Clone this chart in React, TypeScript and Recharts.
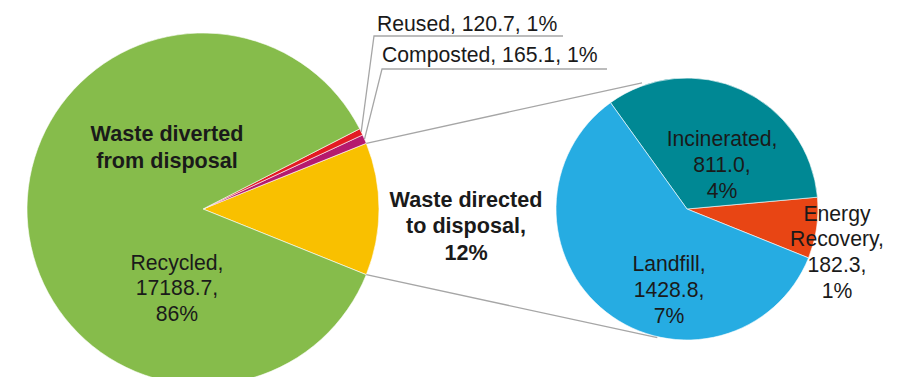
import React from 'react';
import { PieChart, Pie, Cell } from 'recharts';

// ---------- data ----------
const divertedNames = ['Recycled', 'Reused', 'Composted'];
const divertedValues = [17188.7, 120.7, 165.1];
const divertedPercents = ['86%', '1%', '1%'];
const disposalNames = ['Incinerated', 'Energy Recovery', 'Landfill'];
const disposalValues = [811.0, 182.3, 1428.8];
const disposalPercents = ['4%', '1%', '7%'];
const divertedGroupLabel = ['Waste diverted', 'from disposal'];
const disposalGroupLabel = ['Waste directed', 'to disposal,', '12%'];

// ---------- styles / layout ----------
const W = 914;
const H = 377;
const FONT = '"Liberation Sans", Arial, Helvetica, sans-serif';
const FS = 21.2;
const FS_BOLD = 21.6;
const TEXT = '#1a1a1a';
const LINE = '#a6a6a6';
const COLORS: Record<string, string> = {
  disposal: '#F9C000',
  Recycled: '#86BC4B',
  Reused: '#E31B23',
  Composted: '#B51A6E',
  Incinerated: '#008894',
  'Energy Recovery': '#E84514',
  Landfill: '#26ACE2',
};
const LEFT = { cx: 203, cy: 209, r: 176 };
const RIGHT = { cx: 687, cy: 209, r: 131 };
// label anchors relative to pie centre
const LABEL_POS: Record<string, { dx: number; dy: number; lh: number }> = {
  Recycled: { dx: -26, dy: 53, lh: 25.5 },
  disposal: { dx: 263, dy: -10, lh: 26.5 },
  Incinerated: { dx: 35, dy: -71, lh: 26 },
  'Energy Recovery': { dx: 150, dy: 4, lh: 25.7 },
  Landfill: { dx: -18, dy: 54, lh: 26 },
};
const GROUP_POS = { dx: -36, dy: -76, lh: 27 };
// callout labels (small slices): text anchor, elbow, underline length
const CALLOUT: Record<string, { tx: number; ty: number; ex: number; ey: number; len: number }> = {
  Reused: { tx: 174, ty: -186, ex: 171, ey: -173, len: 189 },
  Composted: { tx: 179, ty: -155, ex: 179, ey: -140, len: 225 },
};
// where the connector lines meet the secondary pie (angle deg, radius)
const CONNECT_TOP = { a: 109.6, r: 134 };
const CONNECT_BOTTOM = { a: -103, r: 132 };

// ---------- derived tables ----------
const sum = (a: number[]) => a.reduce((s, v) => s + v, 0);
const disposalTotal = sum(disposalValues);
const grandTotal = sum(divertedValues) + disposalTotal;
const halfSpan = (disposalTotal / grandTotal) * 180;
const START = -halfSpan;
const END = 360 - halfSpan;

const leftData = [
  { key: 'disposal', value: disposalTotal, lines: disposalGroupLabel },
  { key: 'Composted', value: divertedValues[2], lines: [`Composted, ${divertedValues[2].toFixed(1)}, ${divertedPercents[2]}`] },
  { key: 'Reused', value: divertedValues[1], lines: [`Reused, ${divertedValues[1].toFixed(1)}, ${divertedPercents[1]}`] },
  { key: 'Recycled', value: divertedValues[0], lines: [`${divertedNames[0]},`, `${divertedValues[0].toFixed(1)},`, divertedPercents[0]] },
];

const rightData = [
  { key: 'Energy Recovery', value: disposalValues[1], lines: ['Energy', 'Recovery,', `${disposalValues[1].toFixed(1)},`, disposalPercents[1]] },
  { key: 'Incinerated', value: disposalValues[0], lines: [`${disposalNames[0]},`, `${disposalValues[0].toFixed(1)},`, disposalPercents[0]] },
  { key: 'Landfill', value: disposalValues[2], lines: [`${disposalNames[2]},`, `${disposalValues[2].toFixed(1)},`, disposalPercents[2]] },
];

const RAD = Math.PI / 180;
const polar = (cx: number, cy: number, r: number, a: number) => ({
  x: cx + r * Math.cos(a * RAD),
  y: cy - r * Math.sin(a * RAD),
});

const Lines = ({ x, y, lines, lh, bold }: { x: number; y: number; lines: string[]; lh: number; bold?: boolean }) => (
  <g>
    {lines.map((l, i) => (
      <text
        key={i}
        x={x}
        y={y + i * lh}
        textAnchor="middle"
        dominantBaseline="central"
        fontFamily={FONT}
        fontSize={bold ? FS_BOLD : FS}
        fontWeight={bold ? 'bold' : 'normal'}
        fill={TEXT}
      >
        {l}
      </text>
    ))}
  </g>
);

const renderLeftLabel = (p: any) => {
  const { cx, cy, outerRadius, midAngle, index, percent } = p;
  const d = leftData[index];
  if (!d) return null;
  if (d.key === 'disposal') {
    const pos = LABEL_POS.disposal;
    const half = percent * 180;
    const a1 = polar(cx, cy, outerRadius, half);
    const a2 = polar(cx, cy, outerRadius, -half);
    const b1 = polar(RIGHT.cx, RIGHT.cy, CONNECT_TOP.r, CONNECT_TOP.a);
    const b2 = polar(RIGHT.cx, RIGHT.cy, CONNECT_BOTTOM.r, CONNECT_BOTTOM.a);
    return (
      <g>
        <line x1={a1.x} y1={a1.y} x2={b1.x} y2={b1.y} stroke={LINE} strokeWidth={1.3} />
        <line x1={a2.x} y1={a2.y} x2={b2.x} y2={b2.y} stroke={LINE} strokeWidth={1.3} />
        <Lines x={cx + pos.dx} y={cy + pos.dy} lines={d.lines} lh={pos.lh} bold />
      </g>
    );
  }
  if (d.key === 'Recycled') {
    const pos = LABEL_POS.Recycled;
    return (
      <g>
        <Lines x={cx + GROUP_POS.dx} y={cy + GROUP_POS.dy} lines={divertedGroupLabel} lh={GROUP_POS.lh} bold />
        <Lines x={cx + pos.dx} y={cy + pos.dy} lines={d.lines} lh={pos.lh} />
      </g>
    );
  }
  const c = CALLOUT[d.key];
  const s = polar(cx, cy, outerRadius, midAngle);
  const ex = cx + c.ex;
  const ey = cy + c.ey;
  return (
    <g>
      <polyline
        points={`${s.x},${s.y} ${ex},${ey} ${ex + c.len},${ey}`}
        fill="none"
        stroke={LINE}
        strokeWidth={1.3}
      />
      <text
        x={cx + c.tx}
        y={cy + c.ty}
        dominantBaseline="central"
        fontFamily={FONT}
        fontSize={FS}
        fill={TEXT}
      >
        {d.lines[0]}
      </text>
    </g>
  );
};

const renderRightLabel = (p: any) => {
  const { cx, cy, index } = p;
  const d = rightData[index];
  if (!d) return null;
  const pos = LABEL_POS[d.key];
  return <Lines x={cx + pos.dx} y={cy + pos.dy} lines={d.lines} lh={pos.lh} />;
};

export default function App() {
  return (
    <div style={{ position: 'absolute', left: 0, top: 0, width: W, height: H, background: '#fff' }}>
      <PieChart width={W} height={H} margin={{ top: 0, right: 0, bottom: 0, left: 0 }}>
        <Pie
          data={leftData}
          dataKey="value"
          nameKey="key"
          cx={LEFT.cx}
          cy={LEFT.cy}
          outerRadius={LEFT.r}
          startAngle={START}
          endAngle={END}
          stroke="#fff"
          strokeWidth={0.6}
          label={renderLeftLabel}
          labelLine={false}
          isAnimationActive={false}
        >
          {leftData.map((d) => (
            <Cell key={d.key} fill={COLORS[d.key]} />
          ))}
        </Pie>
        <Pie
          data={rightData}
          dataKey="value"
          nameKey="key"
          cx={RIGHT.cx}
          cy={RIGHT.cy}
          outerRadius={RIGHT.r}
          startAngle={START}
          endAngle={END}
          stroke="#fff"
          strokeWidth={0.6}
          label={renderRightLabel}
          labelLine={false}
          isAnimationActive={false}
        >
          {rightData.map((d) => (
            <Cell key={d.key} fill={COLORS[d.key]} />
          ))}
        </Pie>
      </PieChart>
    </div>
  );
}
